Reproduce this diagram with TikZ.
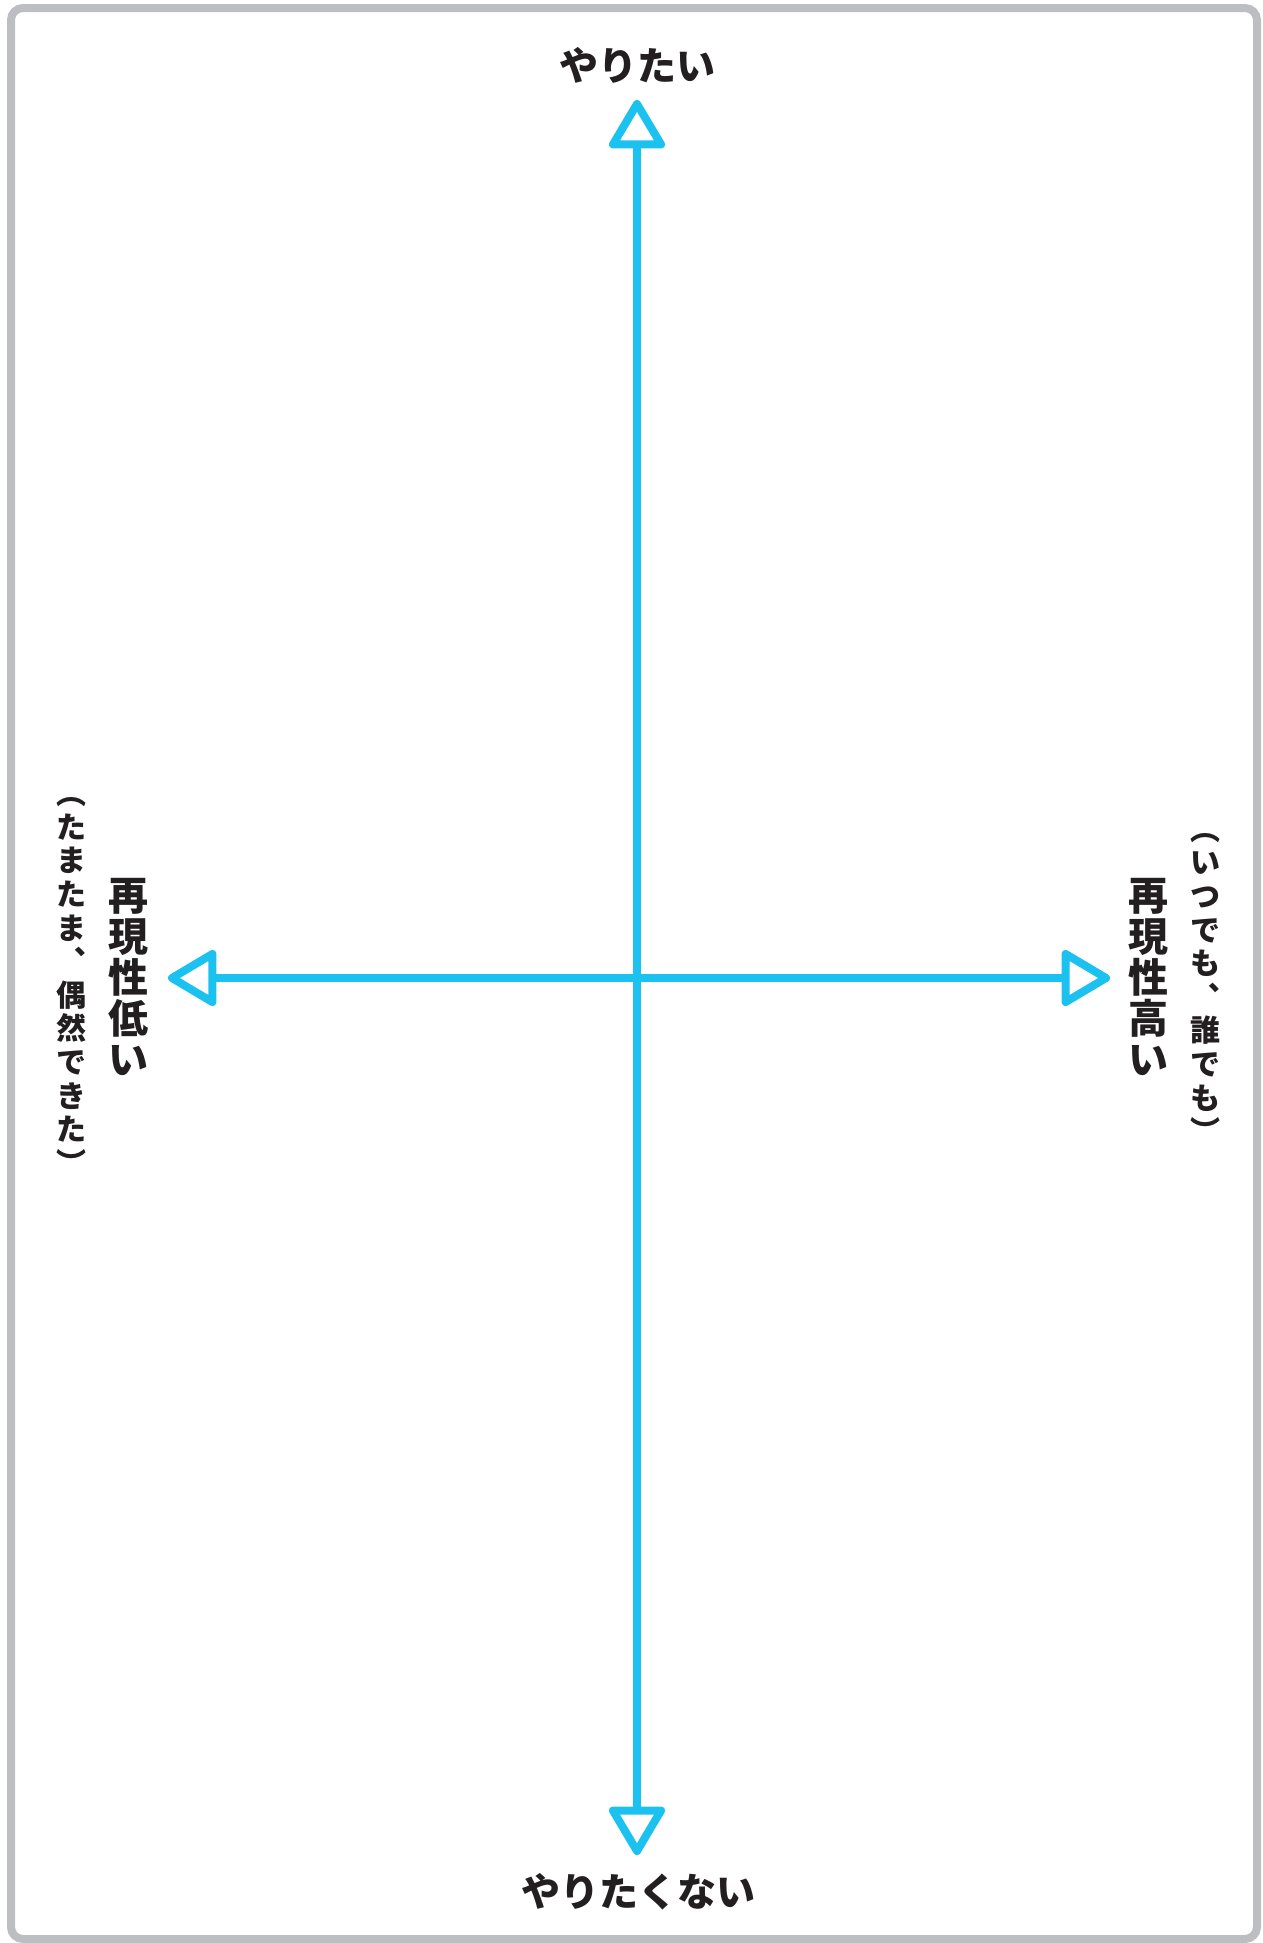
\documentclass[tikz,border=0pt]{standalone}
\usepackage{fontspec}
\newfontfamily\jpfont{Noto Sans CJK JP}
\usetikzlibrary{arrows.meta}
\definecolor{colAxis}{RGB}{27,194,240}
\definecolor{colFrame}{RGB}{189,190,193}
\definecolor{colText}{RGB}{35,31,32}
\tikzset{
  axtip/.tip    = {Triangle[open, round, length=26.25pt, width=30pt]},
  axis/.style   = {axtip-axtip, line width=4pt, draw=colAxis},
  frame/.style  = {line width=4pt, draw=colFrame, rounded corners=6pt},
  label/.style  = {text=colText, inner sep=0pt,
                   font=\jpfont\bfseries\fontsize{19.5pt}{24pt}\selectfont},
  bigcol/.style = {text=colText, inner sep=0pt, align=center,
                   font=\jpfont\bfseries\fontsize{20pt}{20.5pt}\selectfont},
  subcol/.style = {text=colText, inner sep=0pt, align=center,
                   font=\jpfont\bfseries\fontsize{15pt}{16.8pt}\selectfont},
}
\begin{document}
\begin{tikzpicture}[x=0.5pt, y=-0.5pt]
\useasboundingbox (0,0) rectangle (1263,1943);

\draw[frame] (11,8) rectangle (1257,1939);

%% axis end points
\coordinate (c)   at (637,978);
\coordinate (top) at (637,100);
\coordinate (bot) at (637,1855);
\coordinate (lft) at (168,978);
\coordinate (rgt) at (1110,978);

\draw[axis] (bot) -- (top);
\draw[axis] (lft) -- (rgt);

%% labels
\node[label] (want)    at (637,65)   {やりたい};
\node[label] (notwant) at (638,1892) {やりたくない};

\node[bigcol] (low)     at (128,977) {再\\現\\性\\低\\い};
\node[subcol] (lowsub)  at (71,986)  {︵\\た\\ま\\た\\ま\\︑\\偶\\然\\で\\き\\た\\︶};
\node[bigcol] (high)    at (1148,977) {再\\現\\性\\高\\い};
\node[subcol] (highsub) at (1205,988) {︵\\い\\つ\\で\\も\\︑\\誰\\で\\も\\︶};

\end{tikzpicture}
\end{document}
